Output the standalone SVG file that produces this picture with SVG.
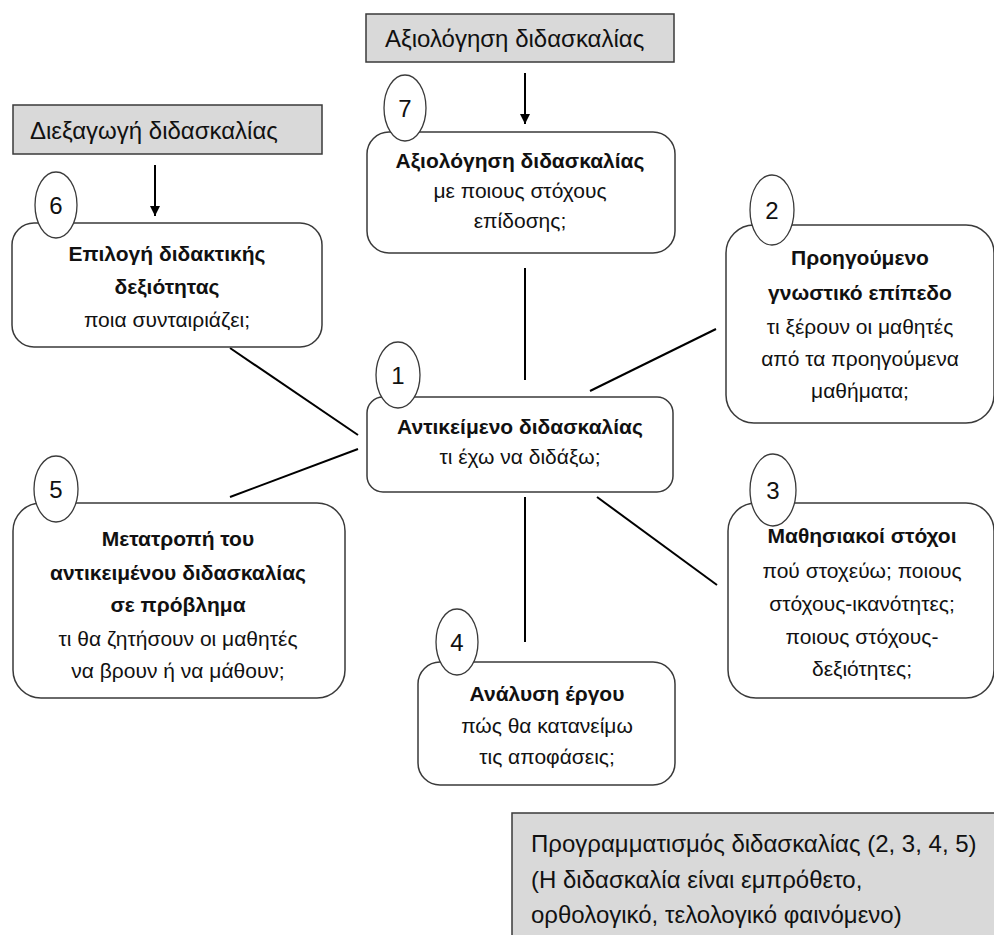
<svg xmlns="http://www.w3.org/2000/svg" width="994" height="935" viewBox="0 0 994 935">
<defs>
<marker id="arr" viewBox="0 0 10 10" refX="10" refY="5" markerWidth="10" markerHeight="10" markerUnits="userSpaceOnUse" orient="auto">
<path d="M0,0 L10,5 L0,10 z" fill="#000"/>
</marker>
<style>
.gray{fill:#d9d9d9;stroke:#3a3a3a;stroke-width:1.5}
.box{fill:#fff;stroke:#3a3a3a;stroke-width:1.5}
.ell{fill:#fff;stroke:#3a3a3a;stroke-width:1.3}
.t{font-family:"Liberation Sans",Arial,sans-serif;font-size:21px;fill:#111;text-anchor:middle}
.b{font-weight:bold}
.g{font-family:"Liberation Sans",Arial,sans-serif;font-size:24px;fill:#111}
.n{font-family:"Liberation Sans",Arial,sans-serif;font-size:24px;fill:#111;text-anchor:middle}
.c{stroke:#000;stroke-width:2;fill:none}
</style>
</defs>
<rect width="994" height="935" fill="#fff"/>

<g id="connectors">
<line class="c" x1="525" y1="73" x2="525" y2="124" marker-end="url(#arr)"/>
<line class="c" x1="155" y1="165" x2="155" y2="216" marker-end="url(#arr)"/>
<line class="c" x1="525" y1="268" x2="525" y2="380"/>
<line class="c" x1="525" y1="497" x2="525" y2="642"/>
<line class="c" x1="230" y1="348" x2="358" y2="435"/>
<line class="c" x1="230" y1="497" x2="358" y2="449"/>
<line class="c" x1="590" y1="391" x2="716" y2="329"/>
<line class="c" x1="597" y1="497" x2="717" y2="585"/>
</g>

<g id="label-evaluation">
<rect class="gray" x="366" y="14" width="308" height="48"/>
<text class="g" x="385" y="47">Αξιολόγηση διδασκαλίας</text>
</g>

<g id="label-conduct">
<rect class="gray" x="13" y="105" width="309" height="49"/>
<text class="g" x="30" y="139">Διεξαγωγή διδασκαλίας</text>
</g>

<g id="label-planning">
<rect class="gray" x="512" y="813" width="490" height="130"/>
<text class="g" x="531" y="852">Προγραμματισμός διδασκαλίας (2, 3, 4, 5)</text>
<text class="g" x="531" y="888">(Η διδασκαλία είναι εμπρόθετο,</text>
<text class="g" x="531" y="923">ορθολογικό, τελολογικό φαινόμενο)</text>
</g>

<g id="node7">
<rect class="box" x="367" y="132" width="308" height="121" rx="22"/>
<ellipse class="ell" cx="405" cy="108" rx="21" ry="33"/>
<text class="n" x="405" y="117">7</text>
<text class="t b" x="520" y="168">Αξιολόγηση διδασκαλίας</text>
<text class="t" x="520" y="198">με ποιους στόχους</text>
<text class="t" x="520" y="228">επίδοσης;</text>
</g>

<g id="node6">
<rect class="box" x="12" y="223" width="310" height="124" rx="22"/>
<ellipse class="ell" cx="56" cy="205" rx="21" ry="33"/>
<text class="n" x="56" y="214">6</text>
<text class="t b" x="167" y="261">Επιλογή διδακτικής</text>
<text class="t b" x="167" y="294">δεξιότητας</text>
<text class="t" x="167" y="327">ποια συνταιριάζει;</text>
</g>

<g id="node2">
<rect class="box" x="726" y="225" width="268" height="198" rx="28"/>
<ellipse class="ell" cx="772" cy="210" rx="22" ry="35"/>
<text class="n" x="772" y="219">2</text>
<text class="t b" x="860" y="265">Προηγούμενο</text>
<text class="t b" x="860" y="300">γνωστικό επίπεδο</text>
<text class="t" x="860" y="334">τι ξέρουν οι μαθητές</text>
<text class="t" x="860" y="366">από τα προηγούμενα</text>
<text class="t" x="860" y="398">μαθήματα;</text>
</g>

<g id="node1">
<rect class="box" x="367" y="397" width="306" height="95" rx="16"/>
<ellipse class="ell" cx="398" cy="375" rx="22" ry="33"/>
<text class="n" x="398" y="384">1</text>
<text class="t b" x="520" y="434">Αντικείμενο διδασκαλίας</text>
<text class="t" x="520" y="464">τι έχω να διδάξω;</text>
</g>

<g id="node5">
<rect class="box" x="13" y="503" width="332" height="195" rx="28"/>
<ellipse class="ell" cx="56" cy="489" rx="22" ry="33"/>
<text class="n" x="56" y="498">5</text>
<text class="t b" x="178" y="546">Μετατροπή του</text>
<text class="t b" x="178" y="580">αντικειμένου διδασκαλίας</text>
<text class="t b" x="178" y="612">σε πρόβλημα</text>
<text class="t" x="178" y="646">τι θα ζητήσουν οι μαθητές</text>
<text class="t" x="178" y="678">να βρουν ή να μάθουν;</text>
</g>

<g id="node3">
<rect class="box" x="728" y="503" width="266" height="195" rx="28"/>
<ellipse class="ell" cx="773" cy="490" rx="23" ry="36"/>
<text class="n" x="773" y="499">3</text>
<text class="t b" x="862" y="543">Μαθησιακοί στόχοι</text>
<text class="t" x="862" y="578">πού στοχεύω; ποιους</text>
<text class="t" x="862" y="611">στόχους-ικανότητες;</text>
<text class="t" x="862" y="644">ποιους στόχους-</text>
<text class="t" x="862" y="676">δεξιότητες;</text>
</g>

<g id="node4">
<rect class="box" x="418" y="662" width="257" height="123" rx="22"/>
<ellipse class="ell" cx="457" cy="642" rx="21" ry="33"/>
<text class="n" x="457" y="651">4</text>
<text class="t b" x="547" y="701">Ανάλυση έργου</text>
<text class="t" x="547" y="733">πώς θα κατανείμω</text>
<text class="t" x="547" y="764">τις αποφάσεις;</text>
</g>
</svg>
